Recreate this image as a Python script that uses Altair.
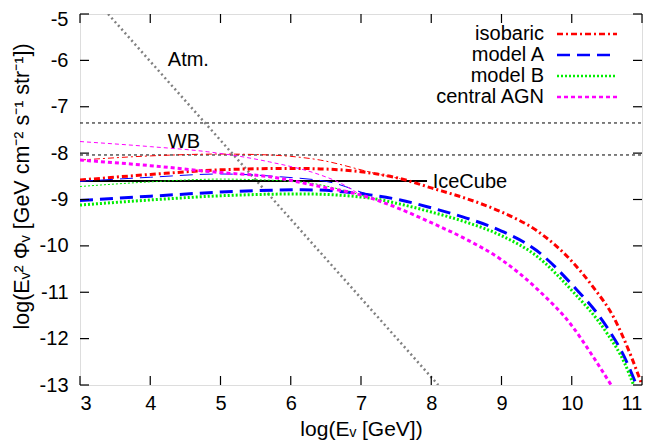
import altair as alt
import pandas as pd

# ---------------- data ----------------
x_iso_thick = [3, 4, 5, 6, 6.42, 7, 7.23, 7.56, 8, 8.5, 9, 9.5, 10, 10.3, 10.6, 10.85, 11.0]
y_iso_thick = [-8.58, -8.46, -8.36, -8.33, -8.34, -8.40, -8.45, -8.55, -8.75, -8.98, -9.27, -9.67, -10.33, -10.88, -11.55, -12.4, -13.0]
x_iso_thin = [3, 4, 5, 5.5, 6, 6.42, 7, 7.23, 7.56]
y_iso_thin = [-8.15, -8.06, -8.02, -8.03, -8.07, -8.15, -8.36, -8.45, -8.55]

x_a_thick = [3, 4, 5, 6.17, 7.13, 7.56, 8, 8.5, 9, 9.5, 10, 10.5, 10.75, 10.92]
y_a_thick = [-9.02, -8.93, -8.84, -8.79, -8.90, -9.01, -9.18, -9.40, -9.68, -10.10, -10.83, -11.75, -12.4, -13.0]
x_a_thin = [3, 4, 5, 5.85, 6.6, 7.0, 7.13]
y_a_thin = [-8.61, -8.52, -8.45, -8.51, -8.64, -8.84, -8.90]

x_b_thick = [3, 4, 4.99, 6.17, 7.13, 7.56, 8, 8.5, 9, 9.5, 10, 10.5, 10.75, 10.88]
y_b_thick = [-9.12, -9.01, -8.92, -8.88, -8.97, -9.10, -9.27, -9.49, -9.78, -10.22, -10.96, -11.88, -12.52, -13.0]
x_b_thin = [3, 4, 4.99, 6.13, 6.7, 7.13]
y_b_thin = [-8.72, -8.62, -8.56, -8.62, -8.78, -8.97]

x_c_thick = [3, 4, 5, 5.7, 6.42, 6.99, 7.5, 8, 8.5, 9, 9.5, 10, 10.3, 10.56]
y_c_thick = [-8.15, -8.27, -8.42, -8.51, -8.72, -8.90, -9.17, -9.50, -9.86, -10.30, -10.92, -11.72, -12.38, -13.0]
x_c_thin = [3, 4, 4.81, 5.7, 6.42, 6.7, 6.99]
y_c_thin = [-7.75, -7.86, -7.97, -8.19, -8.47, -8.64, -8.90]

x_atm = [3.4, 8.1]
y_atm = [-5.0, -13.0]

wb_levels = [-7.35, -8.04]
wb_x = [3, 11]

x_icecube = [3, 7.94]
y_icecube = [-8.6, -8.6]

ann_text = ["Atm.", "WB", "IceCube"]
ann_x = [4.25, 4.25, 8.02]
ann_y = [-6.0, -7.76, -8.62]

series_names = ["isobaric", "model A", "model B", "central AGN"]

x_ticks = [3, 4, 5, 6, 7, 8, 9, 10, 11]
y_ticks = [-13, -12, -11, -10, -9, -8, -7, -6, -5]

# ---------------- styling ----------------
W, H = 562, 371
FONT = "Liberation Sans"
FS = 20
colors = {"isobaric": "#ff0000", "model A": "#0000ff", "model B": "#00ee00", "central AGN": "#ff00ff"}
dashes = {"isobaric": [6, 3, 2, 3], "model A": [13, 7], "model B": [2, 2], "central AGN": [4, 3]}

xs = alt.Scale(domain=[3, 11], nice=False, zero=False)
ys = alt.Scale(domain=[-13, -5], nice=False, zero=False)

label_expr = "datum.value < 0 ? '-' + abs(datum.value) : '' + datum.value"

x_axis = alt.Axis(values=x_ticks, title="log(Eᵥ [GeV])", grid=False, ticks=False, tickSize=0,
                  domain=False, labelPadding=8, titlePadding=5, labelFont=FONT, labelFontSize=FS,
                  titleFont=FONT, titleFontSize=21, titleFontWeight="normal", labelColor="black",
                  titleColor="black", labelExpr=label_expr)
y_axis = alt.Axis(values=y_ticks, title="log(Eᵥ² Φᵥ [GeV cm⁻² s⁻¹ str⁻¹])", grid=False, ticks=False,
                  tickSize=0, domain=False, labelPadding=12, titlePadding=6, labelFont=FONT,
                  labelFontSize=FS,
                  labelOffset={"condition": {"test": "datum.value == -5", "value": 5}, "value": 0},
                  titleFont=FONT, titleFontSize=21.5, titleY=172,
                  titleFontWeight="normal", labelColor="black", titleColor="black", labelExpr=label_expr)


def line_df(xv, yv):
    return pd.DataFrame({"x": xv, "y": yv})


layers = []

# WB dashed horizontal lines
for lv in wb_levels:
    layers.append(
        alt.Chart(line_df(wb_x, [lv, lv])).mark_line(color="black", strokeWidth=1, strokeDash=[3, 3], clip=True)
        .encode(x=alt.X("x:Q", scale=xs, axis=x_axis), y=alt.Y("y:Q", scale=ys, axis=y_axis))
    )

# Atm line
layers.append(
    alt.Chart(line_df(x_atm, y_atm)).mark_line(color="#808080", strokeWidth=2.5, strokeDash=[2, 3], clip=True)
    .encode(x=alt.X("x:Q", scale=xs), y=alt.Y("y:Q", scale=ys))
)

# IceCube line
layers.append(
    alt.Chart(line_df(x_icecube, y_icecube)).mark_line(color="black", strokeWidth=2, clip=True)
    .encode(x=alt.X("x:Q", scale=xs), y=alt.Y("y:Q", scale=ys))
)

model_data = {
    "isobaric": [(x_iso_thin, y_iso_thin), (x_iso_thick, y_iso_thick)],
    "model A": [(x_a_thin, y_a_thin), (x_a_thick, y_a_thick)],
    "model B": [(x_b_thin, y_b_thin), (x_b_thick, y_b_thick)],
    "central AGN": [(x_c_thin, y_c_thin), (x_c_thick, y_c_thick)],
}
for name in series_names:
    for (xv, yv), sw in zip(model_data[name], [1, 3]):
        layers.append(
            alt.Chart(line_df(xv, yv)).mark_line(color=colors[name], strokeWidth=sw,
                                                 strokeDash=dashes[name], interpolate="monotone", clip=True)
            .encode(x=alt.X("x:Q", scale=xs), y=alt.Y("y:Q", scale=ys))
        )

# annotations
ann_df = pd.DataFrame({"t": ann_text, "x": ann_x, "y": ann_y})
layers.append(
    alt.Chart(ann_df).mark_text(align="left", baseline="middle", font=FONT, fontSize=FS, color="black")
    .encode(x=alt.X("x:Q", scale=xs), y=alt.Y("y:Q", scale=ys), text="t:N")
)

# inward ticks
xt = pd.DataFrame({"v": x_ticks})
yt = pd.DataFrame({"v": y_ticks})
layers.append(alt.Chart(xt).mark_rule(color="black", strokeWidth=1.2)
              .encode(x=alt.X("v:Q", scale=xs), y=alt.value(H), y2=alt.value(H - 9)))
layers.append(alt.Chart(xt).mark_rule(color="black", strokeWidth=1.2)
              .encode(x=alt.X("v:Q", scale=xs), y=alt.value(0), y2=alt.value(9)))
layers.append(alt.Chart(yt).mark_rule(color="black", strokeWidth=1.2)
              .encode(y=alt.Y("v:Q", scale=ys), x=alt.value(0), x2=alt.value(9)))
layers.append(alt.Chart(yt).mark_rule(color="black", strokeWidth=1.2)
              .encode(y=alt.Y("v:Q", scale=ys), x=alt.value(W), x2=alt.value(W - 9)))

# custom legend (labels left, samples right)
for i, name in enumerate(series_names):
    yy = 20 + 21 * i
    ldf = pd.DataFrame({"t": [name]})
    layers.append(
        alt.Chart(ldf).mark_text(align="right", baseline="middle", font=FONT, fontSize=FS, color="black")
        .encode(x=alt.value(464), y=alt.value(yy), text="t:N")
    )
    layers.append(
        alt.Chart(ldf).mark_rule(color=colors[name], strokeWidth=2.5, strokeDash=dashes[name])
        .encode(x=alt.value(477), x2=alt.value(537), y=alt.value(yy))
    )

chart = alt.layer(*layers).properties(
    width=W, height=H, autosize="none",
    padding={"left": 72, "top": 6, "right": 20, "bottom": 58},
).configure_view(stroke="black", strokeWidth=2).configure(background="white")

chart.save("out.html", embed_options={"renderer": "svg", "actions": False})
